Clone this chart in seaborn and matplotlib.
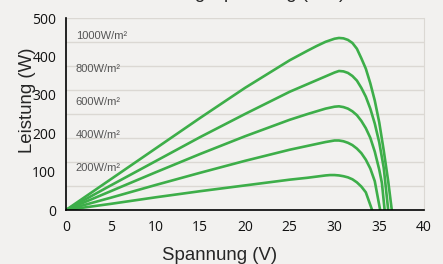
import numpy as np
import pandas as pd
import seaborn as sns
import matplotlib.pyplot as plt

# P-V curves per irradiance
v_1000 = [0, 5, 10, 15, 20, 25, 27, 28, 29, 30, 30.5, 31, 31.5, 32, 32.5, 33, 33.5, 34, 34.5, 35, 35.5, 36, 36.4]
p_1000 = [0, 80, 160, 240, 318, 390, 415, 427, 438, 446, 448, 447, 443, 435, 420, 395, 368, 330, 285, 228, 155, 75, 0]
v_800 = [0, 5, 10, 15, 20, 25, 27, 28, 29, 30, 30.5, 31, 31.5, 32, 32.5, 33, 33.5, 34, 34.5, 35, 35.5, 36.0]
p_800 = [0, 64, 127, 190, 250, 308, 328, 338, 348, 358, 362, 361, 357, 349, 337, 318, 295, 264, 225, 176, 110, 0]
v_600 = [0, 5, 10, 15, 20, 25, 27, 28, 29, 30, 30.5, 31, 31.5, 32, 32.5, 33, 33.5, 34, 34.5, 35, 35.3, 35.6]
p_600 = [0, 49, 98, 146, 192, 235, 250, 257, 264, 269, 270, 268, 264, 257, 247, 232, 213, 188, 152, 105, 70, 0]
v_400 = [0, 5, 10, 15, 20, 25, 27, 28, 29, 30, 30.5, 31, 31.5, 32, 32.5, 33, 33.5, 34, 34.5, 35.1]
p_400 = [0, 32, 65, 97, 128, 157, 167, 172, 177, 181, 181, 179, 175, 169, 160, 148, 131, 108, 75, 0]
v_200 = [0, 5, 10, 15, 20, 25, 27, 28, 29, 29.5, 30, 30.5, 31, 31.5, 32, 32.5, 33, 33.5, 34.2]
p_200 = [0, 16, 33, 49, 64, 79, 84, 87, 90, 91, 91, 90, 88, 85, 80, 72, 61, 46, 0]

labels = ['1000W/m²', '800W/m²', '600W/m²', '400W/m²', '200W/m²']
label_y = [454, 367, 282, 195, 109]
grid_y = [62.5, 125, 187.5, 250, 312.5, 375, 437.5, 500]

curves = [(v_1000, p_1000), (v_800, p_800), (v_600, p_600), (v_400, p_400), (v_200, p_200)]
df = pd.concat([
    pd.DataFrame({'V': v, 'P': p, 'G': lab})
    for (v, p), lab in zip(curves, labels)
])

sns.set_style('white')
bg = '#f2f1ef'
plt.rcParams['font.family'] = ['Liberation Sans', 'DejaVu Sans']

fig = plt.figure(figsize=(4.43, 2.64), dpi=100, facecolor=bg)
ax = fig.add_axes([66 / 443, 1 - 210 / 264, (424 - 66) / 443, (210 - 18) / 264])
ax.set_facecolor(bg)

for gy in grid_y:
    ax.axhline(gy, color='#dbd8d3', lw=1, zorder=0)

sns.lineplot(data=df, x='V', y='P', units='G', estimator=None, sort=False,
             color='#3dae49', lw=1.9, ax=ax, legend=False)

for lab, ly in zip(labels, label_y):
    ax.text(1.1, ly, lab, fontsize=8, color='#555555', va='center')

ax.set_xlim(0, 40)
ax.set_ylim(0, 500)
ax.set_xticks(range(0, 41, 5))
ax.set_yticks(range(0, 501, 100))
ax.tick_params(axis='both', direction='out', length=4, width=1, color='black', pad=3)
for lbl in ax.get_xticklabels() + ax.get_yticklabels():
    lbl.set_family(['Open Sans', 'DejaVu Sans'])
    lbl.set_fontsize(10)
    lbl.set_color('#111111')
for s in ['left', 'bottom']:
    ax.spines[s].set_color('black')
    ax.spines[s].set_linewidth(1.2)
ax.spines['top'].set_visible(False)
ax.spines['right'].set_color('#dbd8d3')

ax.set_xlabel('Spannung (V)', fontsize=13.4)
ax.set_ylabel('Leistung (W)', fontsize=13.4)
ax.xaxis.label.set_va('center')
ax.yaxis.label.set_va('center')
ax.xaxis.set_label_coords((220 - 66) / 358, -(255 - 210) / 192)
ax.yaxis.set_label_coords(-(66 - 27) / 358, (210 - 100) / 192)

fig.text(240 / 443, 1 + 2 / 264, 'Leistung-Spannung (P-V)', fontsize=13.4,
         ha='center', va='baseline')

fig.savefig('out.png', dpi=100, facecolor=bg)
